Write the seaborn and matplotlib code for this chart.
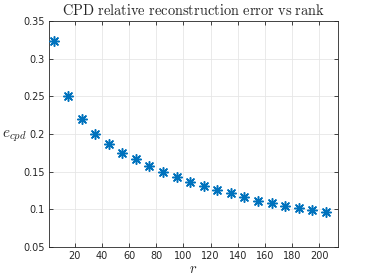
import numpy as np
import pandas as pd
import seaborn as sns
import matplotlib
matplotlib.use("Agg")
import matplotlib.pyplot as plt
from matplotlib.ticker import FuncFormatter

# rank values and relative reconstruction error
rank = [5, 15, 25, 35, 45, 55, 65, 75, 85, 95, 105,
        115, 125, 135, 145, 155, 165, 175, 185, 195, 205]
err = [0.324, 0.250, 0.220, 0.200, 0.1867, 0.175, 0.1663, 0.1575, 0.150, 0.1434, 0.1368,
       0.131, 0.1258, 0.1214, 0.116, 0.1116, 0.108, 0.105, 0.102, 0.099, 0.0965]
xticks = [20, 40, 60, 80, 100, 120, 140, 160, 180, 200]
yticks = [0.05, 0.1, 0.15, 0.2, 0.25, 0.3, 0.35]

df = pd.DataFrame({'r': rank, 'e': err})

sns.set_style('white')
plt.rcParams['font.family'] = ['DejaVu Sans']
plt.rcParams['mathtext.fontset'] = 'cm'

fig = plt.figure(figsize=(3.74, 2.8), dpi=100)
ax = fig.add_axes([0.131, 0.118, 0.773, 0.807])

sns.scatterplot(data=df, x='r', y='e', ax=ax, marker=(8, 2, 0), s=48,
                color='#0072BD', edgecolor='#0072BD', linewidth=1.1, zorder=3)

ax.set_xlim(1, 214)
ax.set_ylim(0.05, 0.35)
ax.set_xticks(xticks)
ax.set_yticks(yticks)
ax.yaxis.set_major_formatter(FuncFormatter(lambda v, p: ('%g' % round(v, 3))))
ax.grid(True, color='#e6e6e6', linewidth=0.6)
ax.set_axisbelow(True)
ax.tick_params(direction='in', length=3, width=0.6, labelsize=7, colors='#262626',
               top=True, right=True, bottom=True, left=True, pad=3)
for sp in ax.spines.values():
    sp.set_color('#262626')
    sp.set_linewidth(0.6)

ax.set_title(r'$\mathrm{CPD\ relative\ reconstruction\ error\ vs\ rank}$', fontsize=10.4, pad=4)
ax.set_xlabel(r'$r$', fontsize=10.5)
ax.set_ylabel(r'$e_{cpd}$', fontsize=11, rotation=0)
ax.xaxis.set_label_coords(0.5, -0.097)
ax.xaxis.label.set_va('center')
ax.yaxis.set_label_coords(-0.12, 0.49)
ax.yaxis.label.set_ha('center')
ax.yaxis.label.set_va('center')

fig.savefig('out.png', dpi=100)
